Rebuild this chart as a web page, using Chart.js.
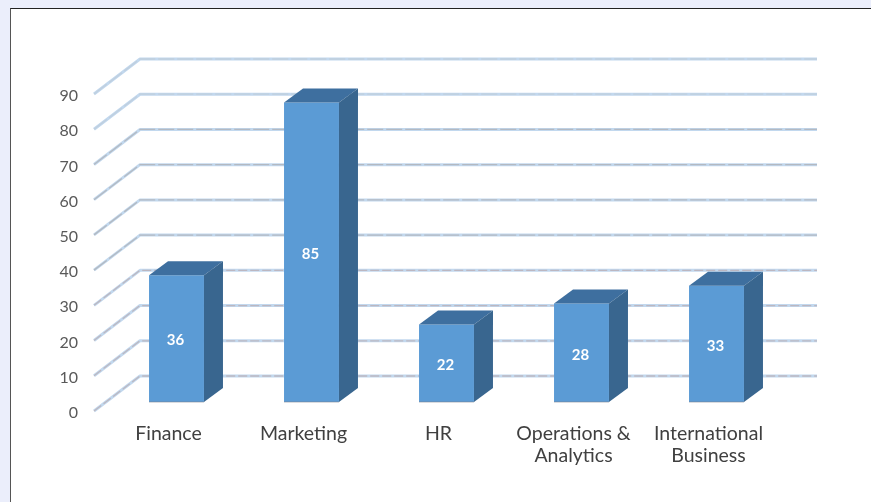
<!DOCTYPE html>
<html><head><meta charset="utf-8">
<script src="https://cdn.jsdelivr.net/npm/chart.js@4/dist/chart.umd.min.js"></script>
<style>
html,body{margin:0;padding:0;background:#EBEEFB;width:871px;height:502px;overflow:hidden}
#box{position:absolute;left:10px;top:8px;width:861px;height:494px;background:#fff;border-top:1px solid #222;border-left:1px solid #555;box-sizing:border-box}
canvas{position:absolute;left:0;top:0}
</style></head><body>
<div id="box"></div>
<canvas id="c" width="871" height="502"></canvas>
<script>
const categories=['Finance','Marketing','HR',['Operations &','Analytics'],['International','Business']];
const values=[36,85,22,28,33];
const tickValues=[0,10,20,30,40,50,60,70,80,90];

const wall={dx:46,dy:-35,right:817,left:94,lift:-2};
const barShift={x:8,y:-11};
const depth={x:19,y:-14};

const wall3d={
  id:'wall3d',
  beforeDatasetsDraw(chart){
    const ctx=chart.ctx,s=chart.scales.y;
    ctx.save();
    tickValues.forEach(v=>{
      const y=s.getPixelForValue(v)+wall.lift;
      const path=()=>{ctx.beginPath();ctx.moveTo(wall.left,y);ctx.lineTo(wall.left+wall.dx,y+wall.dy);ctx.lineTo(wall.right,y+wall.dy);};
      ctx.lineJoin='round';
      ctx.strokeStyle='#C2D8EE';ctx.lineWidth=3;path();ctx.stroke();
      ctx.setLineDash(v<=30?[9,3]:[16,3]);
      ctx.strokeStyle=v<=30?'rgba(185,172,178,.75)':(v<=70?'rgba(175,178,182,.8)':'rgba(190,198,205,.5)');
      ctx.lineWidth=1.3;path();ctx.stroke();
      ctx.setLineDash([]);
    });
    ctx.restore();
    ctx.save();
    ctx.translate(barShift.x,barShift.y);
  },
  afterDatasetsDraw(chart){
    const ctx=chart.ctx,meta=chart.getDatasetMeta(0);
    meta.data.forEach((b,i)=>{
      const l=b.x-b.width/2,r=b.x+b.width/2,t=b.y,bt=b.base;
      ctx.fillStyle='#3E6F9F';
      ctx.beginPath();ctx.moveTo(l,t);ctx.lineTo(l+depth.x,t+depth.y);ctx.lineTo(r+depth.x,t+depth.y);ctx.lineTo(r,t);ctx.closePath();ctx.fill();
      ctx.fillStyle='#39668F';
      ctx.beginPath();ctx.moveTo(r,t);ctx.lineTo(r+depth.x,t+depth.y);ctx.lineTo(r+depth.x,bt+depth.y);ctx.lineTo(r,bt);ctx.closePath();ctx.fill();
      ctx.strokeStyle='rgba(120,125,135,.55)';ctx.lineWidth=1;
      ctx.beginPath();ctx.moveTo(l,bt);ctx.lineTo(r,bt);ctx.stroke();
      ctx.fillStyle='#fff';ctx.font='bold 15px Lato';ctx.textAlign='center';ctx.textBaseline='middle';
      ctx.fillText(String(values[i]),b.x-1,(t+bt)/2+2);
    });
    ctx.restore();
  }
};

new Chart(document.getElementById('c'),{
  type:'bar',
  data:{labels:categories,datasets:[{data:values,backgroundColor:'#5B9BD5',borderWidth:0,barPercentage:0.407,categoryPercentage:1,clip:false}]},
  options:{
    responsive:false,animation:false,
    layout:{padding:{top:96,left:0,right:95,bottom:0}},
    plugins:{legend:{display:false},tooltip:{enabled:false}},
    scales:{
      x:{grid:{display:false},border:{display:false},
         afterFit(a){a.height=89;},
         ticks:{color:'#404040',font:{family:'Lato',size:19.5,lineHeight:1.13},padding:2,maxRotation:0,autoSkip:false}},
      y:{min:0,max:90,grid:{display:false},border:{display:false},
         afterFit(a){a.width=101;},
         ticks:{color:'#595959',font:{family:'Lato',size:16},stepSize:10,padding:15}}
    }
  },
  plugins:[wall3d]
});
</script>
</body></html>
